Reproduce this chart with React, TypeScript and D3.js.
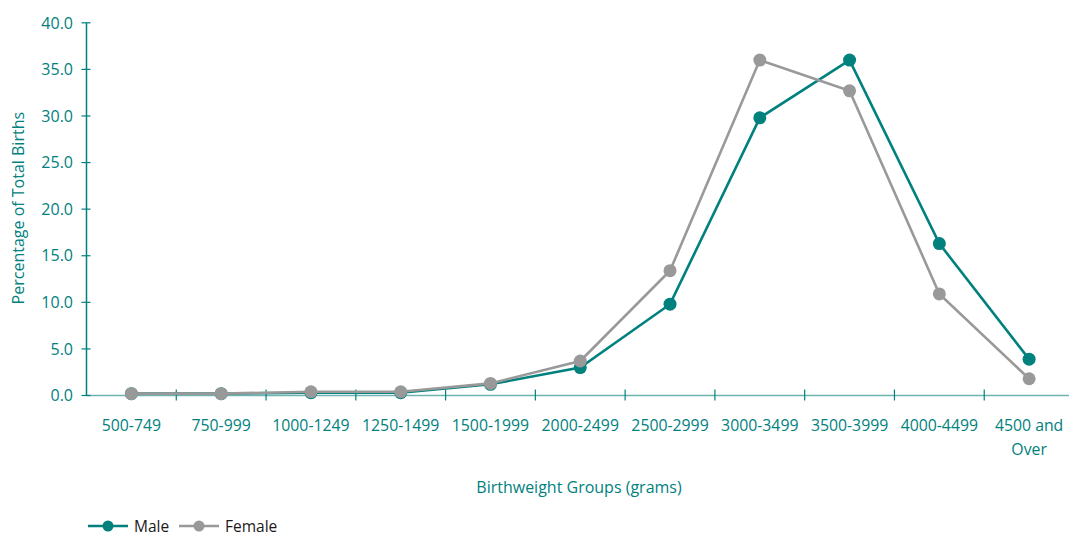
import React from "react";
import * as d3 from "d3";

const categories = ["500-749", "750-999", "1000-1249", "1250-1499", "1500-1999", "2000-2499", "2500-2999", "3000-3499", "3500-3999", "4000-4499", "4500 and Over"];
const maleValues = [0.2, 0.2, 0.3, 0.3, 1.2, 3.0, 9.8, 29.8, 36.0, 16.3, 3.9];
const femaleValues = [0.2, 0.2, 0.4, 0.4, 1.3, 3.7, 13.4, 36.0, 32.7, 10.9, 1.8];
const yTicks = [0, 5, 10, 15, 20, 25, 30, 35, 40];

const TEAL = "#00817E";
const GRAY = "#999999";
const AXIS_X = "#6DB3B0";
const FONT = "'Open Sans', sans-serif";

export default function App() {
  const W = 1069, H = 538;
  const left = 86.5, right = 1074, top = 22.8, bottom = 395.5;
  const x = d3.scaleBand<string>().domain(categories).range([left, right]);
  const y = d3.scaleLinear().domain([0, 40]).range([bottom, top]);
  const cx = (c: string) => (x(c) as number) + x.bandwidth() / 2;
  const line = d3.line<number>().x((_, i) => cx(categories[i])).y((d) => y(d));
  const series = [
    { name: "Male", values: maleValues, color: TEAL },
    { name: "Female", values: femaleValues, color: GRAY },
  ];
  const ly = 526;
  return (
    <svg width={W} height={H} style={{ position: "absolute", left: 0, top: 0 }} fontFamily={FONT}>
      {/* x axis */}
      <line x1={left} x2={right} y1={bottom} y2={bottom} stroke={AXIS_X} strokeWidth={1.5} />
      {categories.map((c, i) => (
        <line key={"xt" + i} x1={(x(c) as number) + x.bandwidth()} x2={(x(c) as number) + x.bandwidth()} y1={bottom - 6} y2={bottom + 5} stroke={TEAL} strokeWidth={1.2} />
      ))}
      {categories.map((c, i) => {
        const parts = c === "4500 and Over" ? ["4500 and", "Over"] : [c];
        return (
          <text key={"xl" + i} x={cx(c)} y={431} textAnchor="middle" fontSize={15.8} fill={TEAL}>
            {parts.map((p, j) => (
              <tspan key={j} x={cx(c)} dy={j === 0 ? 0 : 24}>{p}</tspan>
            ))}
          </text>
        );
      })}
      {/* y axis */}
      <line x1={left} x2={left} y1={top} y2={bottom} stroke={TEAL} strokeWidth={1.5} />
      {yTicks.map((t) => (
        <g key={"yt" + t}>
          <line x1={left - 5} x2={left + 4} y1={y(t)} y2={y(t)} stroke={TEAL} strokeWidth={1.2} />
          <text x={73} y={y(t)} dy="0.36em" textAnchor="end" fontSize={16} fill={TEAL}>{t.toFixed(1)}</text>
        </g>
      ))}
      <text transform={`translate(24,${(top + bottom) / 2 - 1}) rotate(-90)`} textAnchor="middle" fontSize={16} fill={TEAL}>Percentage of Total Births</text>
      <text x={579} y={493} textAnchor="middle" fontSize={16} fill={TEAL}>Birthweight Groups (grams)</text>
      {/* series */}
      {series.map((s) => (
        <g key={s.name}>
          <path d={line(s.values) as string} fill="none" stroke={s.color} strokeWidth={2.6} />
          {s.values.map((v, i) => (
            <circle key={i} cx={cx(categories[i])} cy={y(v)} r={6.5} fill={s.color} />
          ))}
        </g>
      ))}
      {/* legend */}
      {series.map((s, i) => {
        const lx = 88 + i * 91;
        return (
          <g key={"lg" + s.name}>
            <line x1={lx} x2={lx + 40} y1={ly} y2={ly} stroke={s.color} strokeWidth={2.6} />
            <circle cx={lx + 20} cy={ly} r={5.5} fill={s.color} />
            <text x={lx + 46} y={ly} dy="0.36em" fontSize={15.5} fill="#1a1a1a">{s.name}</text>
          </g>
        );
      })}
    </svg>
  );
}
